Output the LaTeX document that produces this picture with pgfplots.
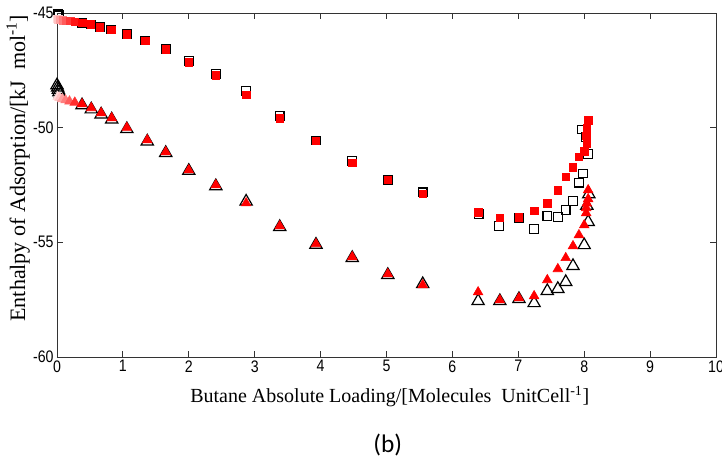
\documentclass[border=0pt]{standalone}
\usepackage{pgfplots}
\pgfplotsset{compat=1.18}
\usepackage{fontspec}
\setmainfont{Liberation Serif}
\newfontfamily\ticksf[FakeStretch=0.85]{Liberation Sans}
\newfontfamily\capf{Carlito}
\begin{document}
\begin{tikzpicture}
\begin{axis}[
  at={(0,0)}, anchor=south west, scale only axis,
  width=494.25pt, height=258pt,
  xmin=0, xmax=10, ymin=-60, ymax=-45,
  xtick={0,1,...,10}, ytick={-60,-55,-50,-45},
  tick align=inside, major tick length=4.5pt,
  axis line style={black!80, line width=0.6pt},
  tick style={black!80, line width=0.6pt},
  /pgf/number format/assume math mode=true,
  ticklabel style={font=\ticksf\fontsize{12.5}{14}\selectfont},
  xticklabel style={yshift=1pt},
  yticklabel style={xshift=1pt},
  xlabel={Butane Absolute Loading/[Molecules\ \ UnitCell\textsuperscript{-1}]},
  ylabel={Enthalpy of Adsorption/[kJ\ \ mol\textsuperscript{-1}]},
  xlabel style={font=\fontsize{15}{17}\selectfont, at={(axis description cs:0.505,-0.1163)}, anchor=center},
  ylabel style={font=\fontsize{16.5}{18}\selectfont, at={(axis description cs:-0.059,0.549)}, anchor=center},
  colormap={fade}{color(0)=(red!10) color(1)=(red)},
  point meta min=0, point meta max=1,
  clip=false,
]
% black open squares
\addplot[only marks, mark=square, mark size=3.25pt, mark options={draw=black, line width=0.9pt}] table {
x y
0.01 -45.02
0.03 -45.10
0.38 -45.42
0.51 -45.50
0.65 -45.60
0.82 -45.72
1.06 -45.92
1.34 -46.20
1.65 -46.56
2.00 -47.10
2.41 -47.66
2.87 -48.40
3.38 -49.50
3.93 -50.56
4.48 -51.45
5.02 -52.27
5.55 -52.82
6.40 -53.76
6.71 -54.29
7.01 -53.92
7.24 -54.42
7.44 -53.85
7.60 -53.90
7.72 -53.60
7.83 -53.20
7.92 -52.40
7.98 -52.00
8.06 -51.15
8.02 -50.40
7.97 -50.08
};
% black open triangles
\addplot[only marks, mark=triangle, mark size=5.3pt, mark options={draw=black, line width=0.9pt}] table {
x y
0.00 -48.15
0.01 -48.25
0.02 -48.35
0.03 -48.45
0.05 -48.55
0.38 -49.02
0.52 -49.20
0.67 -49.42
0.83 -49.64
1.06 -50.06
1.37 -50.60
1.65 -51.10
2.00 -51.88
2.41 -52.55
2.87 -53.22
3.38 -54.33
3.93 -55.10
4.48 -55.68
5.02 -56.42
5.55 -56.82
6.39 -57.56
6.72 -57.56
7.01 -57.47
7.24 -57.65
7.44 -57.12
7.60 -57.03
7.72 -56.73
7.83 -56.03
8.00 -55.12
8.06 -54.11
8.04 -53.40
8.07 -52.90
};
% red filled squares
\addplot[scatter, only marks, mark=square*, mark size=2.8pt, point meta=explicit,
  scatter/use mapped color={draw=mapped color, fill=mapped color}] table [meta=c] {
x y c
0.005 -45.25 0.05
0.02 -45.27 0.15
0.05 -45.29 0.3
0.09 -45.31 0.45
0.14 -45.33 0.6
0.20 -45.35 0.75
0.27 -45.38 0.9
0.38 -45.42 1
0.51 -45.50 1
0.65 -45.62 1
0.82 -45.73 1
1.06 -45.93 1
1.34 -46.21 1
1.65 -46.58 1
2.00 -47.14 1
2.41 -47.72 1
2.87 -48.56 1
3.38 -49.58 1
3.93 -50.58 1
4.48 -51.54 1
5.02 -52.28 1
5.55 -52.89 1
6.39 -53.68 1
6.72 -53.92 1
7.01 -53.90 1
7.24 -53.63 1
7.44 -53.29 1
7.60 -52.72 1
7.72 -52.15 1
7.83 -51.72 1
7.92 -51.28 1
8.00 -51.02 1
8.04 -50.67 1
8.03 -50.36 1
8.04 -50.00 1
8.06 -49.67 1
};
% red filled triangles
\addplot[scatter, only marks, mark=triangle*, mark size=4.2pt, point meta=explicit,
  scatter/use mapped color={draw=mapped color, fill=mapped color}] table [meta=c] {
x y c
0.01 -48.65 0.05
0.04 -48.70 0.15
0.08 -48.75 0.3
0.13 -48.80 0.45
0.19 -48.85 0.6
0.27 -48.90 0.8
0.38 -48.97 1
0.52 -49.14 1
0.67 -49.36 1
0.83 -49.58 1
1.06 -50.00 1
1.37 -50.54 1
1.65 -51.06 1
2.00 -51.85 1
2.41 -52.50 1
2.87 -53.29 1
3.38 -54.29 1
3.93 -55.07 1
4.48 -55.64 1
5.02 -56.38 1
5.55 -56.86 1
6.39 -57.17 1
6.72 -57.52 1
7.01 -57.43 1
7.24 -57.34 1
7.44 -56.64 1
7.60 -56.16 1
7.72 -55.68 1
7.83 -55.16 1
7.92 -54.68 1
8.00 -54.25 1
8.03 -53.72 1
8.03 -53.50 1
8.04 -53.30 1
8.06 -53.11 1
8.06 -52.72 1
};
\end{axis}
\node[font=\capf\fontsize{19}{22}\selectfont] at (248pt,-66pt) {(b)};
\pgfresetboundingbox
\useasboundingbox (-42.75pt,-78.75pt) rectangle (498.75pt,267.75pt);
\end{tikzpicture}
\end{document}
